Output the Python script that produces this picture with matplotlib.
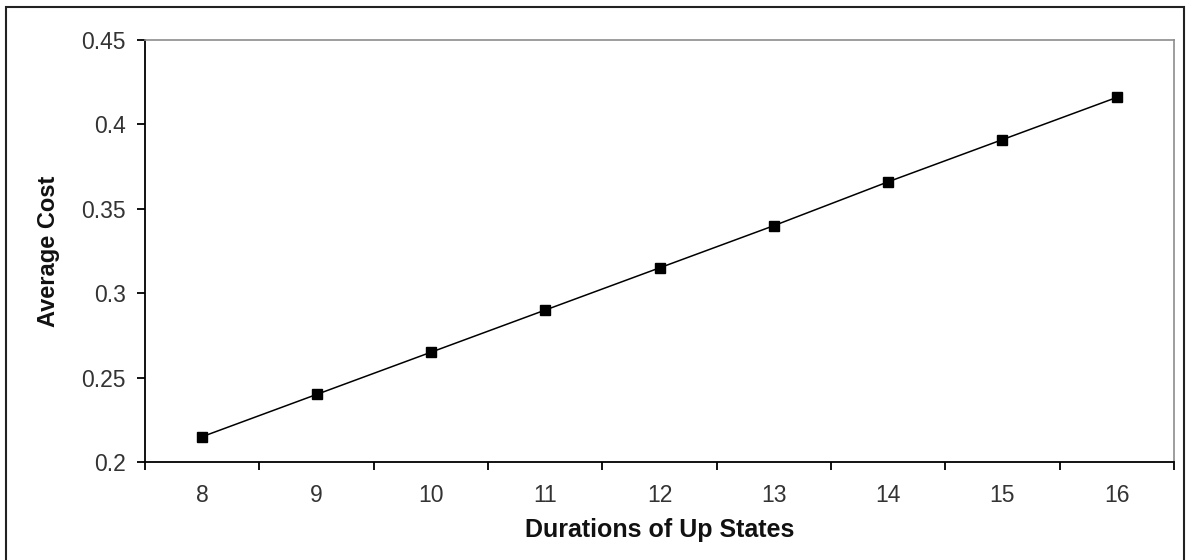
import matplotlib
matplotlib.use("Agg")
import matplotlib.pyplot as plt
from matplotlib.patches import Rectangle
from matplotlib.ticker import FixedLocator, NullFormatter

categories = ["8", "9", "10", "11", "12", "13", "14", "15", "16"]
avg_cost = [0.215, 0.240, 0.265, 0.290, 0.315, 0.340, 0.366, 0.391, 0.416]
y_ticks = [0.2, 0.25, 0.3, 0.35, 0.4, 0.45]
y_tick_labels = ["0.2", "0.25", "0.3", "0.35", "0.4", "0.45"]

plt.rcParams['font.family'] = ['Liberation Sans', 'DejaVu Sans']

W, H = 1187, 560
fig = plt.figure(figsize=(W / 100, H / 100), dpi=100)
fig.patch.set_facecolor("white")

ax = fig.add_axes([145 / W, (H - 462) / H, (1174 - 145) / W, (462 - 40) / H])

x = list(range(len(categories)))
ax.plot(x, avg_cost, color="black", linewidth=1.1, marker="s", markersize=7.5,
        markerfacecolor="black", markeredgecolor="black")

ax.set_xlim(-0.5, len(categories) - 0.5)
ax.set_ylim(0.2, 0.45)

ax.set_yticks(y_ticks)
ax.set_yticklabels(y_tick_labels)

# category axis: ticks between categories, labels at centers
ax.xaxis.set_major_locator(FixedLocator([i - 0.5 for i in range(len(categories) + 1)]))
ax.xaxis.set_major_formatter(NullFormatter())
ax.xaxis.set_minor_locator(FixedLocator(x))
ax.set_xticklabels(categories, minor=True)
ax.tick_params(axis="x", which="minor", length=0, pad=16, labelsize=16.5, labelcolor="#333333")
ax.tick_params(axis="x", which="major", direction="out", length=6, width=1.3, color="black")
ax.tick_params(axis="y", direction="out", length=6, width=1.3, color="black",
               labelsize=16.5, labelcolor="#333333", pad=8)

ax.spines["left"].set_color("black")
ax.spines["bottom"].set_color("black")
ax.spines["left"].set_linewidth(1.3)
ax.spines["bottom"].set_linewidth(1.3)
ax.spines["top"].set_color("#8c8c8c")
ax.spines["right"].set_color("#8c8c8c")
ax.spines["top"].set_linewidth(1.2)
ax.spines["right"].set_linewidth(1.2)

ax.set_xlabel("Durations of Up States", fontsize=18, fontweight="bold", labelpad=8,
              color="#111111")
ax.set_ylabel("Average Cost", fontsize=17, fontweight="bold", labelpad=15,
              color="#111111")

# outer chart border
fig.patches.append(Rectangle((6 / W, -0.05), (1184 - 6) / W, 1.05 - 7 / H,
                             transform=fig.transFigure, fill=False,
                             edgecolor="#222222", linewidth=1.5))

fig.savefig("out.png", dpi=100)
